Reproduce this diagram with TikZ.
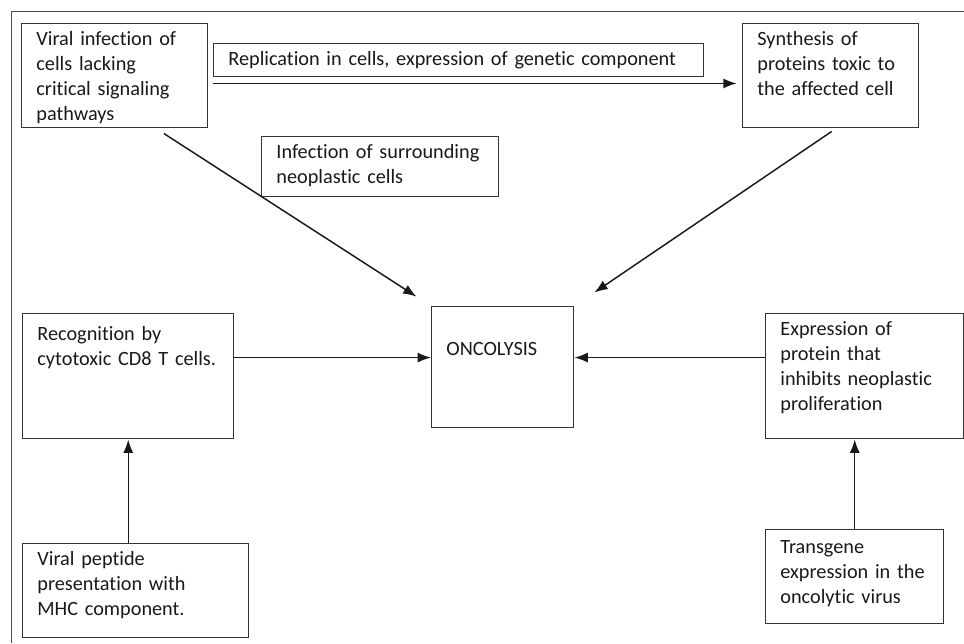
\documentclass[tikz,border=0pt]{standalone}
\usepackage{fontspec}
\setmainfont[Ligatures=NoCommon]{Carlito}
\usetikzlibrary{arrows.meta}

\begin{document}
\begin{tikzpicture}[x=0.75pt,
            y=-0.75pt,
            >={Latex[length=10pt,width=7.5pt]},
            line width=1.1pt,
            block/.style={draw=black!80,
                          anchor=north west,
                          inner sep=0pt,
                          align=left,
                          text=black!90,
                          text height=16.5pt,
                          font=\fontsize{15.2}{18.75}\selectfont,
                          execute at begin node={\leftskip=11pt}},
            link/.style={->, draw=black!90}]

        \useasboundingbox (0,0) rectangle (964,643);
        \draw[black!70, line width=0.6pt] (11,643) -- (11,11) -- (964,11);

        \node[block, text width=139.5pt, text depth=61.5pt]   (viral)  at (21,23)   {Viral infection of\\cells lacking\\critical signaling\\pathways};
        \node[block, text width=367.5pt, text depth=8.25pt]   (repl)   at (213,43)  {Replication in cells, expression of genetic component};
        \node[block, text width=132pt,   text depth=61.5pt]   (synth)  at (742,23)  {Synthesis of\\proteins toxic to\\the affected cell};
        \node[block, text width=177.75pt,text depth=28.5pt]   (infect) at (261,136) {Infection of surrounding\\neoplastic cells};
        \node[block, text width=106.5pt, text height=36.75pt,
              text depth=54pt]                                (onco)   at (431,306) {ONCOLYSIS};
        \node[block, text width=158.25pt,text height=20.25pt,
              text depth=73.5pt]                              (recog)  at (22,313)  {Recognition by\\cytotoxic CD8 T cells.};
        \node[block, text width=148.5pt, text depth=77.25pt]  (expr)   at (765,313) {Expression of\\protein that\\inhibits neoplastic\\proliferation};
        \node[block, text width=169.5pt, text depth=54pt]     (pept)   at (22,543)  {Viral peptide\\presentation with\\MHC component.};
        \node[block, text width=133.5pt, text height=18pt,
              text depth=52.5pt]                              (trans)  at (765,529) {Transgene\\expression in the\\oncolytic virus};

        \draw[link, shorten >=4pt] ([yshift=-4.5pt]repl.south west) -- ([yshift=-4.5pt]repl.south west -| synth.west);
        \draw[link, shorten <=7pt, shorten >=13pt] ([xshift=31pt]viral.south) -- (onco.north west);
        \draw[link, shorten <=4pt, shorten >=18pt] ([xshift=4pt]synth.south) -- (onco.north east);
        \draw[link] ([yshift=14pt]recog.east) -- ([yshift=14pt]recog.east -| onco.west);
        \draw[link] ([yshift=14pt]expr.west) -- ([yshift=14pt]expr.west -| onco.east);
        \draw[link] (pept.north -| recog.south) -- (recog.south);
        \draw[link] (trans.north) -- (trans.north |- expr.south);

\end{tikzpicture}
\end{document}
